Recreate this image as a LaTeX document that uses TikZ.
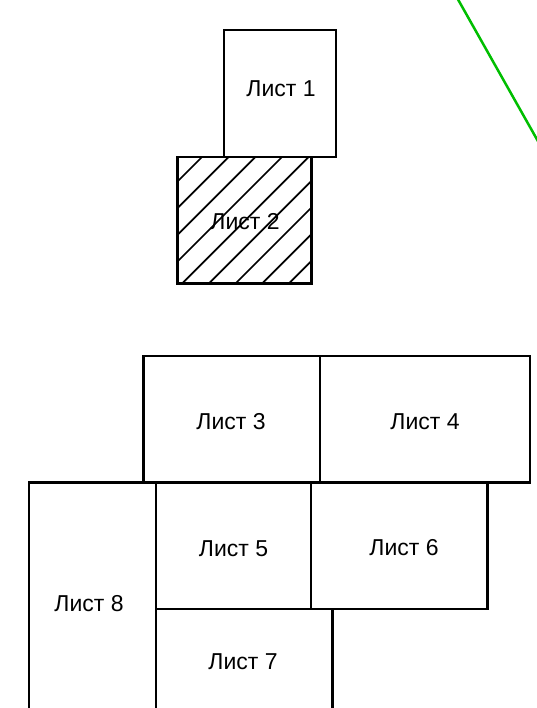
\documentclass[tikz,border=0pt]{standalone}
\usepackage{fontspec}
\setmainfont{Liberation Sans}
\begin{document}
\begin{tikzpicture}[x=1pt,y=-1pt,
  sheet/.style={draw=black,line width=2.1pt},
  hatch/.style={draw=black,line width=1.7pt},
  lbl/.style={inner sep=0pt,font=\fontsize{23}{27}\selectfont},
  cut/.style={draw={rgb,255:red,0;green,190;blue,0},line width=2.5pt}]
\useasboundingbox (0,0) rectangle (537,708);

% upper pair of sheets
\draw[sheet] (224,30) rectangle (336,157);
\begin{scope}
  \clip (177.5,157) rectangle (311.5,283.5);
  \foreach \c in {359,385.67,...,580}
    \draw[hatch] ({\c-300},300) -- ({\c-140},140);
\end{scope}
\draw[sheet] (177.5,157) rectangle (311.5,283.5);
\node[lbl] (l1) at (281,89) {Лист 1};
\node[lbl] (l2) at (245,222) {Лист 2};

% lower layout of sheets
\draw[sheet] (143.5,356) rectangle (320,482.5);
\draw[sheet] (320,356) rectangle (530,482.5);
\draw[sheet] (29,482.5) rectangle (156,720);
\draw[sheet] (156,483) rectangle (311,609);
\draw[sheet] (311,483) rectangle (487.5,609);
\draw[sheet] (156,609) rectangle (332.5,720);
\node[lbl] (l3) at (231,422) {Лист 3};
\node[lbl] (l4) at (425,422) {Лист 4};
\node[lbl] (l5) at (233.5,549) {Лист 5};
\node[lbl] (l6) at (404,548) {Лист 6};
\node[lbl] (l7) at (243,662) {Лист 7};
\node[lbl] (l8) at (89,603.5) {Лист 8};

% green cutting line at the top right
\coordinate (g1) at (455.5,-5);
\coordinate (g2) at (539,143);
\draw[cut] (g1) -- (g2);
\end{tikzpicture}
\end{document}
